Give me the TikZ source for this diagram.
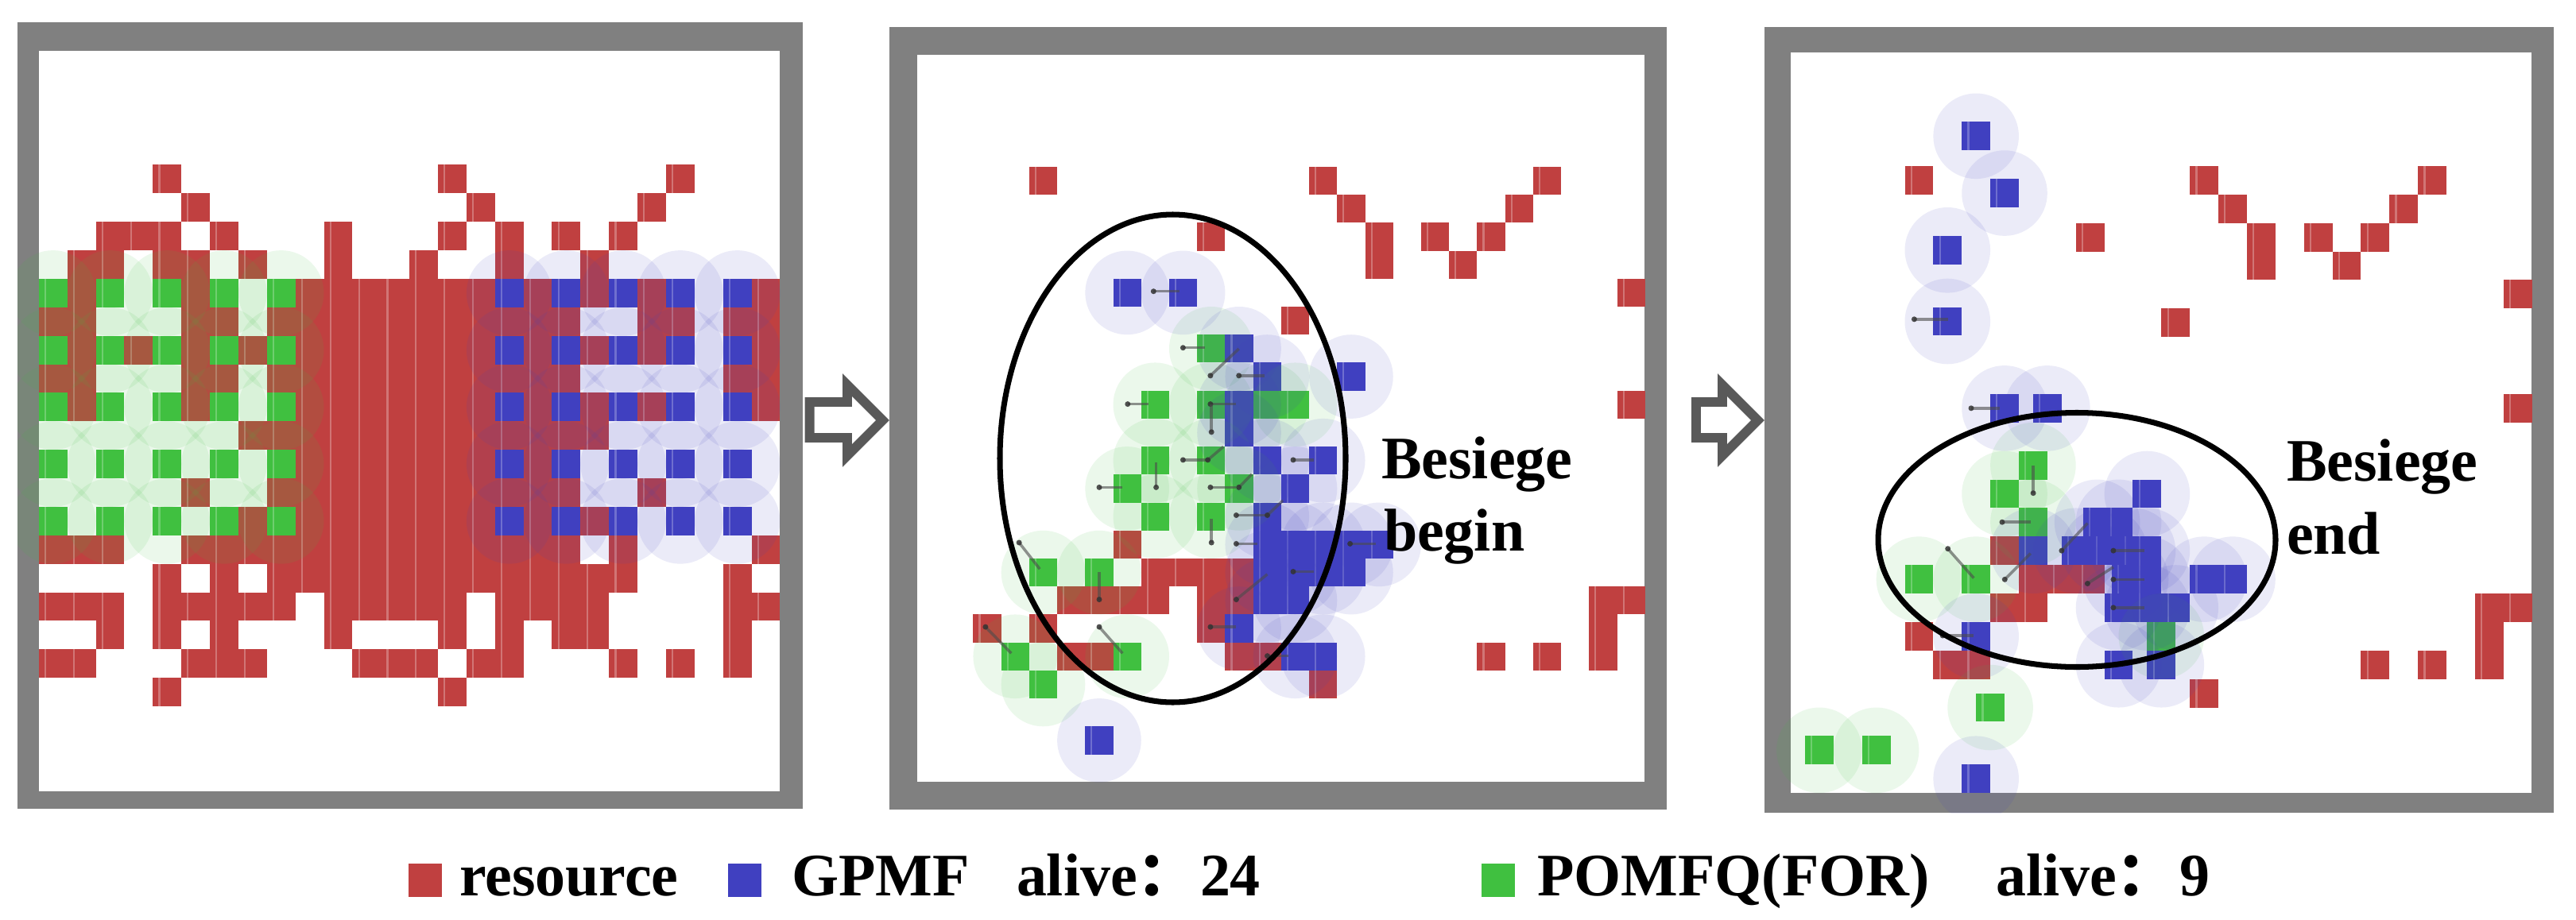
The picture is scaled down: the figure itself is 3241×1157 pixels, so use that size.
\documentclass[tikz,border=0pt]{standalone}
\usepackage{fontspec}
\setmainfont{Liberation Serif}
\newfontfamily\cjkfont{Noto Sans CJK SC}
\definecolor{res}{RGB}{192,64,64}
\definecolor{grn}{RGB}{64,192,64}
\definecolor{blu}{RGB}{64,64,192}
\definecolor{frm}{RGB}{128,128,128}
\definecolor{arw}{RGB}{89,89,89}
\tikzset{
  cellstripe/.style={white,opacity=.28},
  halofill/.style={opacity=.1},
  atkline/.style={draw=black!70,line width=1pt,opacity=.6},
  atkdot/.style={fill=black!80,opacity=.85},
  ring/.style={draw=black,line width=2pt},
  lbl/.style={font=\fontsize{21.6}{24}\selectfont\bfseries,anchor=base west,inner sep=0pt,outer sep=0pt},
  blockarrow/.style={draw=arw,fill=white,line width=3.4pt,line join=miter},
}
\newcommand\cellat[3]{\fill[#1] (#2,#3) rectangle ++(1,1); \fill[cellstripe] (#2+.2,#3) rectangle ++(.06,1);}
\newcommand\rrow[2]{\foreach \cc in {#2}{\cellat{res}{\cc}{#1}}}
\newcommand\halo[3]{\fill[#1,halofill] (#2+.5,#3+.5) circle (1.5);}
\newcommand\atk[2]{\draw[atkline] #1 -- #2; \fill[atkdot] #1 circle (3.5);}
% agent lists
\def\PtwoG{10/10,8/12,10/12,12/12,13/12,8/14,10/14,7/15,11/15,8/16,10/16,4/18,6/18,3/21,7/21,4/22}
\def\PtwoB{7/8,9/8,11/10,12/11,15/11,11/12,11/13,12/14,14/14,13/15,12/16,12/17,13/17,14/17,15/17,16/17,12/18,13/18,14/18,15/18,12/19,13/19,11/20,13/21,14/21,6/24}
\def\PthrG{8/14,7/15,8/16,4/18,6/18,12.5/20,6.5/22.5,0.5/24,2.5/24}
\def\PthrB{6/2.45,7/4.45,5/6.45,5/8.95,7/12,8.5/12,12/15,10.25/16,11/16,8/17,9.5/17,10.5/17,11.5/17,12/17,11.25/18,12/18,14/18,15/18,11/19,12/19,13/19,6/20,11/21,12.5/21,6/25}
\begin{document}
\begin{tikzpicture}[x=0.01cm,y=-0.01cm]
\useasboundingbox (0,0) rectangle (3241,1157);
% ---------------- frames
\fill[frm] (22,28) rectangle (1010,1018);
\fill[white] (48.8,64) rectangle (980.9,996.1);
\fill[frm] (1119,34) rectangle (2097,1019);
\fill[white] (1154,69) rectangle (2069.2,984.2);
\fill[frm] (2220,34) rectangle (3213,1023);
\fill[white] (2253,65.5) rectangle (3185,997.6);
% ---------------- panel 1
\begin{scope}[shift={(48.8,64)},x=0.3585cm,y=-0.3585cm]
\rrow{4}{4,14,22}
\rrow{5}{5,15,21}
\rrow{6}{2,3,4,6,10,14,16,18,20}
\rrow{7}{1,2,4,5,7,10,13,16,19}
\rrow{8}{1,5,9,10,11,12,13,14,15,17,19,21,25}
\rrow{9}{0,1,5,6,8,9,10,11,12,13,14,15,16,17,18,21,22,24,25}
\rrow{10}{1,3,5,7,9,10,11,12,13,14,15,17,19,21,25}
\rrow{11}{0,1,5,6,8,9,10,11,12,13,14,15,16,17,18,24,25}
\rrow{12}{1,5,9,10,11,12,13,14,15,17,19,21,25}
\rrow{13}{7,8,9,10,11,12,13,14,15,16,17,18,19}
\rrow{14}{9,10,11,12,13,14,15,17}
\rrow{15}{5,8,9,10,11,12,13,14,15,16,17,18,21}
\rrow{16}{7,9,10,11,12,13,14,15,17,19}
\rrow{17}{0,1,2,5,6,7,8,9,10,11,12,13,14,15,16,17,18,20,25}
\rrow{18}{4,6,8,9,10,11,12,13,14,15,16,17,18,19,20,24}
\rrow{19}{0,1,2,4,5,6,7,8,10,11,12,13,14,16,17,18,19,24,25}
\rrow{20}{2,4,6,10,14,16,18,19,24}
\rrow{21}{0,1,5,6,7,11,12,13,15,16,20,22,24}
\rrow{22}{4,14}
\foreach \c in {0,2,4,6,8}{\foreach \r in {8,10,12,14,16}{\cellat{grn}{\c}{\r}}}
\foreach \c in {16,18,20,22,24}{\foreach \r in {8,10,12,14,16}{\cellat{blu}{\c}{\r}}}
\end{scope}
\begin{scope}
\clip (22,28) rectangle (1010,1018);
\begin{scope}[shift={(48.8,64)},x=0.3585cm,y=-0.3585cm]
\foreach \c in {0,2,4,6,8}{\foreach \r in {8,10,12,14,16}{\halo{grn}{\c}{\r}}}
\foreach \c in {16,18,20,22,24}{\foreach \r in {8,10,12,14,16}{\halo{blu}{\c}{\r}}}
\end{scope}
\end{scope}
% ---------------- panel 2
\begin{scope}[shift={(1154,69)},x=0.352cm,y=-0.352cm]
\rrow{4}{4,14,22}
\rrow{5}{15,21}
\rrow{6}{10,16,18,20}
\rrow{7}{16,19}
\rrow{8}{25}
\rrow{9}{13}
\rrow{12}{25}
\rrow{17}{7}
\rrow{18}{8,9,10,11}
\rrow{19}{5,6,7,8,10,11,24,25}
\rrow{20}{2,4,10,24}
\rrow{21}{5,6,11,12,20,22,24}
\rrow{22}{14}
\foreach \c/\r in \PtwoG {\cellat{grn}{\c}{\r}}
\foreach \c/\r in \PtwoB {\cellat{blu}{\c}{\r}}
\end{scope}
\begin{scope}
\clip (1119,34) rectangle (2097,1019);
\begin{scope}[shift={(1154,69)},x=0.352cm,y=-0.352cm]
\foreach \c/\r in \PtwoG {\halo{grn}{\c}{\r}}
\foreach \c/\r in \PtwoB {\halo{blu}{\c}{\r}}
\end{scope}
\end{scope}
% ---------------- panel 3
\begin{scope}[shift={(2253,65.5)},x=0.3585cm,y=-0.3585cm]
\rrow{4}{4,14,22}
\rrow{5}{15,21}
\rrow{6}{10,16,18,20}
\rrow{7}{16,19}
\rrow{8}{25}
\rrow{9}{13}
\rrow{12}{25}
\rrow{17}{7}
\rrow{18}{8,9,10}
\rrow{19}{7,8,24,25}
\rrow{20}{4,24}
\rrow{21}{5,6,20,22,24}
\rrow{22}{14}
\foreach \c/\r in \PthrG {\cellat{grn}{\c}{\r}}
\foreach \c/\r in \PthrB {\cellat{blu}{\c}{\r}}
\end{scope}
\begin{scope}
\clip (2220,34) rectangle (3213,1023);
\begin{scope}[shift={(2253,65.5)},x=0.3585cm,y=-0.3585cm]
\foreach \c/\r in \PthrG {\halo{grn}{\c}{\r}}
\foreach \c/\r in \PthrB {\halo{blu}{\c}{\r}}
\end{scope}
\end{scope}
% ---------------- attack lines
\atk{(1451.3,366.7)}{(1483.9,366.7)}
\atk{(1488.4,437.7)}{(1516.4,437.7)}
\atk{(1522.9,472.8)}{(1558.7,439)}
\atk{(1558.7,472.8)}{(1591.2,472.8)}
\atk{(1418.8,508.6)}{(1444.8,508.6)}
\atk{(1522.9,508.6)}{(1555.4,508.6)}
\atk{(1524.2,543.8)}{(1524.2,508.6)}
\atk{(1488.4,578.9)}{(1519.6,578.9)}
\atk{(1519.6,578.9)}{(1539.2,562.3)}
\atk{(1454.6,613.4)}{(1454.6,581.6)}
\atk{(1383,613.4)}{(1412.3,613.4)}
\atk{(1522.9,613.4)}{(1555.4,613.4)}
\atk{(1558.7,613.4)}{(1575,596.8)}
\atk{(1555.4,648.5)}{(1594.5,648.5)}
\atk{(1594.5,648.5)}{(1614,630)}
\atk{(1524.2,683)}{(1524.2,653.2)}
\atk{(1555.4,684.4)}{(1581.5,684.4)}
\atk{(1627,578.9)}{(1653,578.9)}
\atk{(1698.6,684.4)}{(1731.1,684.4)}
\atk{(1627,719.5)}{(1653,719.5)}
\atk{(1555.4,754.6)}{(1594.5,722.8)}
\atk{(1383,754.6)}{(1383,719.5)}
\atk{(1282.2,683)}{(1308.2,716.2)}
\atk{(1239.9,789.1)}{(1272.4,822.3)}
\atk{(1383,789.1)}{(1412.3,822.3)}
\atk{(1522.9,789.1)}{(1555.4,789.1)}
\atk{(1594.5,825.6)}{(1620.5,825.6)}
\atk{(2450.7,690.7)}{(2483.3,727.6)}
\atk{(2522.3,729.3)}{(2554.8,696.6)}
\atk{(2593.9,693.1)}{(2626.4,658.6)}
\atk{(2626.4,734.5)}{(2658.9,713.8)}
\atk{(2658.9,693.1)}{(2698,693.1)}
\atk{(2658.9,729.3)}{(2698,729.3)}
\atk{(2658.9,764.8)}{(2698,764.8)}
\atk{(2519,657.2)}{(2554.8,657.2)}
\atk{(2558.1,620.7)}{(2558.1,586.2)}
\atk{(2480,513.8)}{(2515.8,513.8)}
\atk{(2444.2,800)}{(2483.3,800)}
\atk{(2408.4,401.8)}{(2450.7,401.8)}
% ---------------- ellipses
\draw[ring] (1475.5,577) ellipse [x radius=217.5, y radius=307];
\draw[ring] (2613,679.5) ellipse [x radius=250, y radius=160];
% ---------------- block arrows
\draw[blockarrow] (1018.7,506) -- (1066,506) -- (1066,484.5) -- (1110.5,529) -- (1066,573.5) -- (1066,551) -- (1018.7,551) -- cycle;
\draw[blockarrow] (2134,506) -- (2167,506) -- (2167,484.5) -- (2211.5,529) -- (2167,573.5) -- (2167,551) -- (2134,551) -- cycle;
% ---------------- labels
\node[lbl] (besA) at (1738,602) {Besiege};
\node[lbl] (begin) at (1741,693) {begin};
\node[lbl] (besB) at (2877,605) {Besiege};
\node[lbl] (endt) at (2877,697) {end};
% ---------------- legend
\fill[res] (514,1087) rectangle (556,1129);
\node[lbl] (lres) at (578,1127) {resource};
\fill[blu] (916,1087) rectangle (958,1129);
\node[lbl] (lgp) at (996,1127) {GPMF};
\node[lbl] (lal1) at (1279,1127) {alive{\cjkfont ：}};
\node[lbl] (ln1) at (1510,1127) {24};
\fill[grn] (1864,1087) rectangle (1906,1129);
\node[lbl] (lpo) at (1934,1127) {POMFQ(FOR)};
\node[lbl] (lal2) at (2511,1127) {alive{\cjkfont ：}};
\node[lbl] (ln2) at (2742,1127) {9};
\end{tikzpicture}
\end{document}
